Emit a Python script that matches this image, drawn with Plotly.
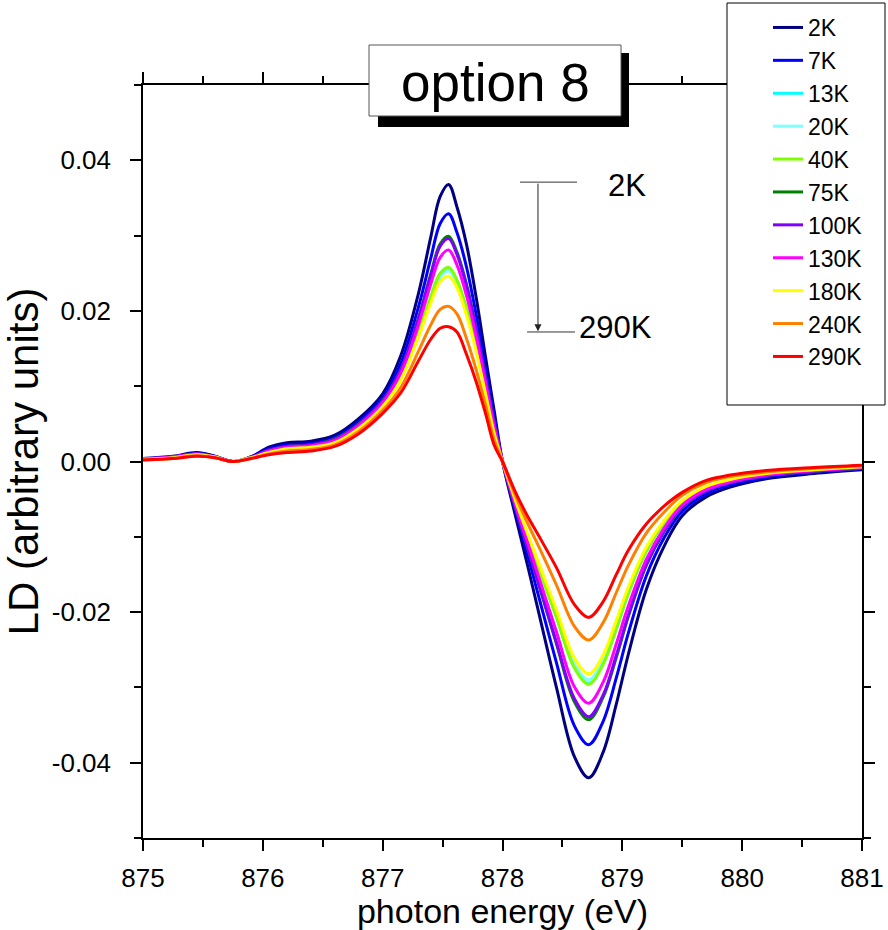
import plotly.graph_objects as go

energy = [875.0, 875.25, 875.45, 875.6, 875.75, 875.9, 876.05, 876.2, 876.4, 876.6,
          876.8, 877.0, 877.15, 877.3, 877.4, 877.48, 877.55, 877.62, 877.7, 877.78,
          877.86, 877.93, 878.0, 878.1, 878.2, 878.3, 878.45, 878.6, 878.72, 878.84,
          878.95, 879.05, 879.2, 879.35, 879.5, 879.7, 879.9, 880.2, 880.6, 881.0]

ld_2K = [0.0004, 0.0007, 0.0012, 0.0007, 0.0000, 0.0006, 0.0019, 0.0025, 0.0027, 0.0035,
         0.0057, 0.0090, 0.0140, 0.0224, 0.0297, 0.0352, 0.0368, 0.0338, 0.0288, 0.0218,
         0.0137, 0.0068, 0.0000, -0.0067, -0.0132, -0.0199, -0.0300, -0.0392, -0.0420, -0.0386,
         -0.0322, -0.0256, -0.0170, -0.0112, -0.0072, -0.0047, -0.0034, -0.0023, -0.0016, -0.0011]
ld_7K = [0.0004, 0.0006, 0.0011, 0.0007, 0.0000, 0.0006, 0.0017, 0.0022, 0.0024, 0.0032,
         0.0053, 0.0085, 0.0130, 0.0206, 0.0269, 0.0316, 0.0329, 0.0304, 0.0258, 0.0195,
         0.0122, 0.0059, 0.0000, -0.0061, -0.0119, -0.0178, -0.0267, -0.0351, -0.0376, -0.0345,
         -0.0287, -0.0228, -0.0152, -0.0101, -0.0066, -0.0043, -0.0031, -0.0021, -0.0014, -0.0010]
ld_13K = [0.0003, 0.0005, 0.0009, 0.0006, 0.0000, 0.0005, 0.0013, 0.0017, 0.0019, 0.0026,
          0.0045, 0.0075, 0.0111, 0.0170, 0.0217, 0.0249, 0.0257, 0.0240, 0.0202, 0.0153,
          0.0094, 0.0041, 0.0000, -0.0050, -0.0096, -0.0140, -0.0206, -0.0273, -0.0295, -0.0268,
          -0.0222, -0.0175, -0.0119, -0.0081, -0.0054, -0.0034, -0.0025, -0.0017, -0.0011, -0.0008]
ld_20K = [0.0003, 0.0005, 0.0009, 0.0006, 0.0000, 0.0005, 0.0013, 0.0017, 0.0019, 0.0026,
          0.0045, 0.0074, 0.0110, 0.0169, 0.0215, 0.0245, 0.0253, 0.0237, 0.0199, 0.0150,
          0.0092, 0.0040, 0.0000, -0.0049, -0.0094, -0.0137, -0.0203, -0.0269, -0.0290, -0.0264,
          -0.0217, -0.0172, -0.0117, -0.0080, -0.0053, -0.0034, -0.0024, -0.0016, -0.0011, -0.0007]
ld_40K = [0.0003, 0.0005, 0.0009, 0.0006, 0.0000, 0.0005, 0.0013, 0.0017, 0.0019, 0.0026,
          0.0045, 0.0075, 0.0111, 0.0171, 0.0218, 0.0250, 0.0258, 0.0241, 0.0203, 0.0153,
          0.0094, 0.0041, 0.0000, -0.0050, -0.0096, -0.0140, -0.0207, -0.0274, -0.0296, -0.0269,
          -0.0222, -0.0175, -0.0119, -0.0081, -0.0054, -0.0034, -0.0025, -0.0017, -0.0011, -0.0008]
ld_75K = [0.0003, 0.0006, 0.0010, 0.0006, 0.0000, 0.0005, 0.0015, 0.0020, 0.0022, 0.0030,
          0.0050, 0.0081, 0.0122, 0.0191, 0.0248, 0.0289, 0.0299, 0.0278, 0.0235, 0.0177,
          0.0110, 0.0051, 0.0000, -0.0057, -0.0110, -0.0162, -0.0242, -0.0319, -0.0343, -0.0313,
          -0.0260, -0.0206, -0.0138, -0.0093, -0.0061, -0.0039, -0.0028, -0.0019, -0.0013, -0.0009]
ld_100K = [0.0003, 0.0006, 0.0010, 0.0006, 0.0000, 0.0005, 0.0015, 0.0020, 0.0022, 0.0029,
           0.0049, 0.0080, 0.0121, 0.0190, 0.0246, 0.0286, 0.0296, 0.0275, 0.0233, 0.0176,
           0.0109, 0.0051, 0.0000, -0.0056, -0.0109, -0.0161, -0.0240, -0.0315, -0.0339, -0.0310,
           -0.0257, -0.0204, -0.0137, -0.0092, -0.0060, -0.0039, -0.0028, -0.0019, -0.0013, -0.0009]
ld_130K = [0.0003, 0.0006, 0.0010, 0.0006, 0.0000, 0.0005, 0.0014, 0.0019, 0.0021, 0.0028,
           0.0048, 0.0078, 0.0117, 0.0182, 0.0235, 0.0271, 0.0281, 0.0261, 0.0220, 0.0166,
           0.0103, 0.0047, 0.0000, -0.0054, -0.0103, -0.0152, -0.0226, -0.0299, -0.0321, -0.0293,
           -0.0242, -0.0192, -0.0130, -0.0088, -0.0058, -0.0037, -0.0027, -0.0018, -0.0012, -0.0008]
ld_180K = [0.0003, 0.0005, 0.0009, 0.0006, 0.0000, 0.0005, 0.0012, 0.0017, 0.0019, 0.0025,
           0.0044, 0.0073, 0.0108, 0.0166, 0.0210, 0.0239, 0.0246, 0.0231, 0.0194, 0.0146,
           0.0089, 0.0038, 0.0000, -0.0048, -0.0092, -0.0134, -0.0197, -0.0261, -0.0282, -0.0257,
           -0.0211, -0.0167, -0.0114, -0.0078, -0.0052, -0.0033, -0.0024, -0.0016, -0.0011, -0.0007]
ld_240K = [0.0002, 0.0004, 0.0008, 0.0005, 0.0000, 0.0004, 0.0010, 0.0014, 0.0016, 0.0022,
           0.0040, 0.0068, 0.0098, 0.0147, 0.0181, 0.0202, 0.0206, 0.0196, 0.0163, 0.0122,
           0.0074, 0.0029, 0.0000, -0.0042, -0.0079, -0.0112, -0.0164, -0.0219, -0.0237, -0.0214,
           -0.0174, -0.0138, -0.0095, -0.0067, -0.0045, -0.0028, -0.0020, -0.0014, -0.0009, -0.0006]
ld_290K = [0.0002, 0.0004, 0.0007, 0.0005, 0.0000, 0.0004, 0.0009, 0.0012, 0.0014, 0.0020,
           0.0037, 0.0064, 0.0091, 0.0134, 0.0162, 0.0177, 0.0179, 0.0172, 0.0142, 0.0106,
           0.0063, 0.0022, 0.0000, -0.0038, -0.0070, -0.0098, -0.0141, -0.0190, -0.0207, -0.0186,
           -0.0150, -0.0118, -0.0083, -0.0059, -0.0041, -0.0025, -0.0018, -0.0012, -0.0008, -0.0005]

series_names = ["2K", "7K", "13K", "20K", "40K", "75K", "100K", "130K", "180K", "240K", "290K"]
series_values = [ld_2K, ld_7K, ld_13K, ld_20K, ld_40K, ld_75K, ld_100K, ld_130K, ld_180K, ld_240K, ld_290K]
series_colors = ["#000080", "#0000FF", "#00FFFF", "#80FFFF", "#80FF00", "#008000",
                 "#8000FF", "#FF00FF", "#FFFF00", "#FF8000", "#FF0000"]

y_tickvals = [-0.04, -0.02, 0.0, 0.02, 0.04]
y_ticktext = ["-0.04", "-0.02", "0.00", "0.02", "0.04"]
x_tickvals = [875, 876, 877, 878, 879, 880, 881]
x_ticktext = ["875", "876", "877", "878", "879", "880", "881"]

FONT = "Liberation Sans, Arial, sans-serif"

fig = go.Figure()
for i, (name, vals, col) in enumerate(zip(series_names, series_values, series_colors)):
    fig.add_trace(go.Scatter(x=energy, y=vals, mode="lines", name=name,
                             legendgroup=name,
                             line=dict(color=col, width=3, shape="spline", smoothing=1.0)))

W, H = 888, 930
L, R, T, B = 143, 26, 85, 92
pw, ph = W - L - R, H - T - B


def px(xp):
    return (xp - L) / pw


def py(yp):
    return (H - B - yp) / ph


shapes = [
    # legend frame
    dict(type="rect", xref="paper", yref="paper", x0=px(727), x1=px(885), y0=py(405), y1=py(3),
         fillcolor="white", line=dict(color="black", width=1), layer="above"),
    # title shadow
    dict(type="rect", xref="paper", yref="paper", x0=px(378), x1=px(629), y0=py(127), y1=py(53),
         fillcolor="black", line=dict(color="black", width=0), layer="above"),
    # title box
    dict(type="rect", xref="paper", yref="paper", x0=px(369), x1=px(621), y0=py(116), y1=py(45),
         fillcolor="white", line=dict(color="#555555", width=1), layer="above"),
    # arrow end bars
    dict(type="line", xref="x", yref="y", x0=878.146, x1=878.622, y0=0.0371, y1=0.0371,
         line=dict(color="#333333", width=1)),
    dict(type="line", xref="x", yref="y", x0=878.205, x1=878.605, y0=0.0172, y1=0.0172,
         line=dict(color="#333333", width=1)),
]

annotations = [
    dict(text="option 8", xref="paper", yref="paper", x=px(495), y=py(82), showarrow=False,
         font=dict(family=FONT, size=53, color="black"), xanchor="center", yanchor="middle"),
    dict(text="", x=878.296, y=0.0173, ax=878.296, ay=0.0371, xref="x", yref="y",
         axref="x", ayref="y", showarrow=True, arrowhead=2, arrowsize=1.4, arrowwidth=1,
         arrowcolor="#222222", standoff=0),
    dict(text="2K", x=878.86, y=0.0366, xref="x", yref="y", showarrow=False,
         xanchor="left", yanchor="middle", font=dict(family=FONT, size=31, color="black")),
    dict(text="290K", x=878.62, y=0.0178, xref="x", yref="y", showarrow=False,
         xanchor="left", yanchor="middle", font=dict(family=FONT, size=31, color="black")),
]

axis_common = dict(showline=True, linecolor="black", linewidth=1.5, mirror="ticks",
                   ticks="outside", ticklen=11, tickwidth=1.5, tickcolor="black",
                   showgrid=False, zeroline=False)

fig.update_layout(
    width=W, height=H,
    margin=dict(l=L, r=R, t=T, b=B, autoexpand=False),
    paper_bgcolor="white", plot_bgcolor="white",
    font=dict(family=FONT, color="black"),
    showlegend=True,
    legend=dict(x=px(768), y=py(6), xanchor="left", yanchor="top",
                bgcolor="rgba(0,0,0,0)", borderwidth=0,
                font=dict(family=FONT, size=23, color="black"),
                traceorder="grouped", tracegroupgap=0, itemwidth=30),
    xaxis=dict(range=[875, 881], tickvals=x_tickvals, ticktext=x_ticktext,
               tickfont=dict(family=FONT, size=26, color="black"), ticklabelstandoff=5,
               minor=dict(dtick=0.5, tick0=875, ticks="outside", ticklen=7, tickwidth=1.5,
                          tickcolor="black"),
               title=dict(text="photon energy (eV)", font=dict(family=FONT, size=34, color="black"),
                          standoff=2),
               **axis_common),
    yaxis=dict(range=[-0.05, 0.05], tickvals=y_tickvals, ticktext=y_ticktext,
               tickfont=dict(family=FONT, size=26, color="black"), ticklabelstandoff=14,
               minor=dict(dtick=0.01, tick0=0, ticks="outside", ticklen=7, tickwidth=1.5,
                          tickcolor="black"),
               title=dict(text="LD (arbitrary units)", font=dict(family=FONT, size=42, color="black"),
                          standoff=0),
               **axis_common),
    shapes=shapes,
    annotations=annotations,
)

fig.write_html("out.html")
